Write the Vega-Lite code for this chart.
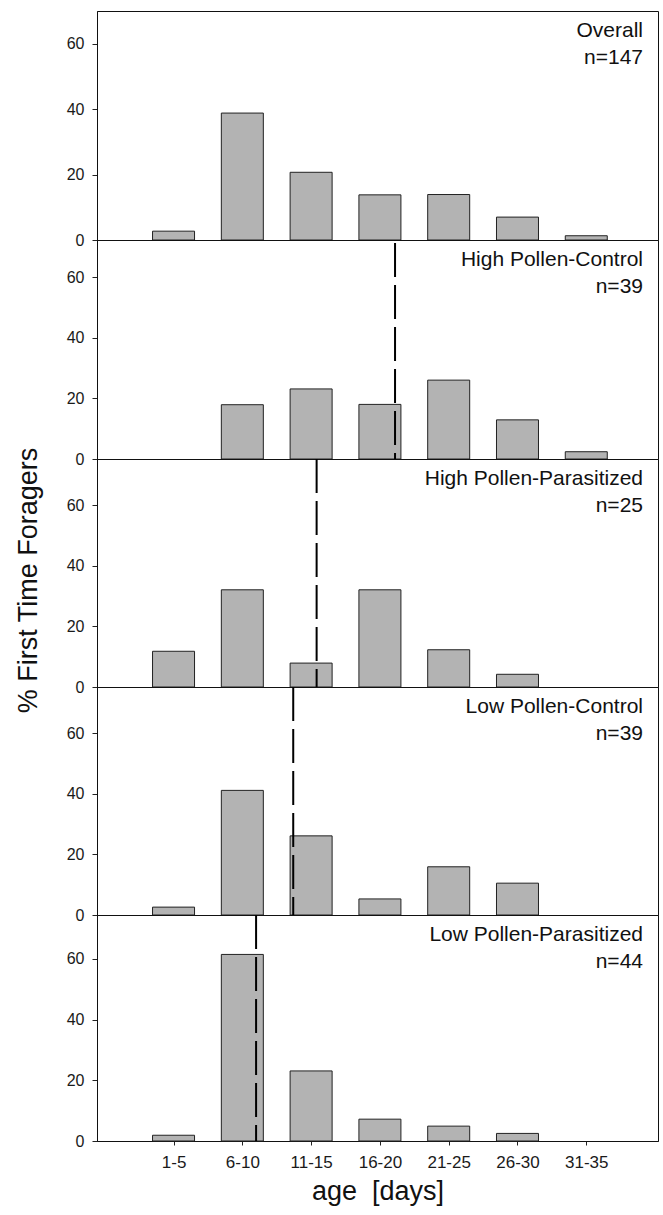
{
  "$schema": "https://vega.github.io/schema/vega-lite/v6.json",
  "padding": {"left": 13, "top": 10, "right": 5, "bottom": 3},
  "background": "white",
  "spacing": 0,
  "bounds": "flush",
  "resolve": {"scale": {"x": "independent", "y": "independent"}},
  "config": {
    "view": {"stroke": "#111", "strokeWidth": 1},
    "axis": {"labelFont": "Liberation Sans", "titleFont": "Liberation Sans", "labelFontSize": 16, "labelColor": "#1a1a1a", "titleColor": "#111", "titleFontWeight": "normal", "tickColor": "#222", "domainColor": "#111", "grid": false},
    "text": {"font": "Liberation Sans"}
  },
  "datasets": {
    "bars": [
      {"panel": "Overall", "age": "1-5", "mid": 3, "pct": 2.7},
      {"panel": "Overall", "age": "6-10", "mid": 8, "pct": 38.8},
      {"panel": "Overall", "age": "11-15", "mid": 13, "pct": 20.7},
      {"panel": "Overall", "age": "16-20", "mid": 18, "pct": 13.8},
      {"panel": "Overall", "age": "21-25", "mid": 23, "pct": 13.9},
      {"panel": "Overall", "age": "26-30", "mid": 28, "pct": 7.0},
      {"panel": "Overall", "age": "31-35", "mid": 33, "pct": 1.3},
      {"panel": "HPC", "age": "6-10", "mid": 8, "pct": 17.9},
      {"panel": "HPC", "age": "11-15", "mid": 13, "pct": 23.1},
      {"panel": "HPC", "age": "16-20", "mid": 18, "pct": 18.0},
      {"panel": "HPC", "age": "21-25", "mid": 23, "pct": 26.0},
      {"panel": "HPC", "age": "26-30", "mid": 28, "pct": 12.9},
      {"panel": "HPC", "age": "31-35", "mid": 33, "pct": 2.4},
      {"panel": "HPP", "age": "1-5", "mid": 3, "pct": 11.8},
      {"panel": "HPP", "age": "6-10", "mid": 8, "pct": 32.1},
      {"panel": "HPP", "age": "11-15", "mid": 13, "pct": 7.9},
      {"panel": "HPP", "age": "16-20", "mid": 18, "pct": 32.1},
      {"panel": "HPP", "age": "21-25", "mid": 23, "pct": 12.3},
      {"panel": "HPP", "age": "26-30", "mid": 28, "pct": 4.2},
      {"panel": "LPC", "age": "1-5", "mid": 3, "pct": 2.6},
      {"panel": "LPC", "age": "6-10", "mid": 8, "pct": 41.1},
      {"panel": "LPC", "age": "11-15", "mid": 13, "pct": 26.1},
      {"panel": "LPC", "age": "16-20", "mid": 18, "pct": 5.3},
      {"panel": "LPC", "age": "21-25", "mid": 23, "pct": 15.9},
      {"panel": "LPC", "age": "26-30", "mid": 28, "pct": 10.5},
      {"panel": "LPP", "age": "1-5", "mid": 3, "pct": 1.9},
      {"panel": "LPP", "age": "6-10", "mid": 8, "pct": 61.5},
      {"panel": "LPP", "age": "11-15", "mid": 13, "pct": 23.1},
      {"panel": "LPP", "age": "16-20", "mid": 18, "pct": 7.2},
      {"panel": "LPP", "age": "21-25", "mid": 23, "pct": 4.9},
      {"panel": "LPP", "age": "26-30", "mid": 28, "pct": 2.5}
    ],
    "panels": [
      {"panel": "Overall", "label": "Overall\nn=147"},
      {"panel": "HPC", "label": "High Pollen-Control\nn=39", "median": 19.1},
      {"panel": "HPP", "label": "High Pollen-Parasitized\nn=25", "median": 13.4},
      {"panel": "LPC", "label": "Low Pollen-Control\nn=39", "median": 11.7},
      {"panel": "LPP", "label": "Low Pollen-Parasitized\nn=44", "median": 9.0}
    ]
  },
  "vconcat": [
    {
      "width": 561, "height": 229,
      "layer": [
        {"data": {"name": "bars"}, "transform": [{"filter": "datum.panel === 'Overall'"}],
         "mark": {"type": "bar", "width": 42, "fill": "#b3b3b3", "stroke": "#222", "strokeWidth": 1},
         "encoding": {
           "x": {"field": "mid", "type": "quantitative", "scale": {"domain": [-2.2, 37.85], "nice": false, "zero": false}, "axis": null},
           "y": {"field": "pct", "type": "quantitative", "scale": {"domain": [0, 70], "nice": false}, "axis": {"values": [0, 20, 40, 60], "title": null, "tickSize": 5, "labelPadding": 8}}
         }},
        {"data": {"name": "panels"}, "transform": [{"filter": "datum.panel === 'Overall'"}],
         "mark": {"type": "text", "align": "right", "baseline": "alphabetic", "dx": -10, "dy": 26, "fontSize": 21, "lineBreak": "\n", "lineHeight": 27, "color": "#111"},
         "encoding": {"x": {"datum": 37.85, "type": "quantitative"}, "y": {"datum": 70, "type": "quantitative"}, "text": {"field": "label"}}}
      ]
    },
    {
      "width": 561, "height": 219,
      "layer": [
        {"data": {"name": "bars"}, "transform": [{"filter": "datum.panel === 'HPC'"}],
         "mark": {"type": "bar", "width": 42, "fill": "#b3b3b3", "stroke": "#222", "strokeWidth": 1},
         "encoding": {
           "x": {"field": "mid", "type": "quantitative", "scale": {"domain": [-2.2, 37.85], "nice": false, "zero": false}, "axis": null},
           "y": {"field": "pct", "type": "quantitative", "scale": {"domain": [0, 72.2], "nice": false}, "axis": {"values": [0, 20, 40, 60], "title": null, "tickSize": 5, "labelPadding": 8}}
         }},
        {"data": {"name": "panels"}, "transform": [{"filter": "datum.panel === 'HPC'"}],
         "mark": {"type": "rule", "color": "#000", "strokeWidth": 2, "strokeDash": [34, 8], "strokeDashOffset": -3},
         "encoding": {"x": {"field": "median", "type": "quantitative"}, "y": {"datum": 72.2, "type": "quantitative"}, "y2": {"datum": 0}}},
        {"data": {"name": "panels"}, "transform": [{"filter": "datum.panel === 'HPC'"}],
         "mark": {"type": "text", "align": "right", "baseline": "alphabetic", "dx": -10, "dy": 26, "fontSize": 21, "lineBreak": "\n", "lineHeight": 27, "color": "#111"},
         "encoding": {"x": {"datum": 37.85, "type": "quantitative"}, "y": {"datum": 72.2, "type": "quantitative"}, "text": {"field": "label"}}}
      ]
    },
    {
      "width": 561, "height": 228,
      "layer": [
        {"data": {"name": "bars"}, "transform": [{"filter": "datum.panel === 'HPP'"}],
         "mark": {"type": "bar", "width": 42, "fill": "#b3b3b3", "stroke": "#222", "strokeWidth": 1},
         "encoding": {
           "x": {"field": "mid", "type": "quantitative", "scale": {"domain": [-2.2, 37.85], "nice": false, "zero": false}, "axis": null},
           "y": {"field": "pct", "type": "quantitative", "scale": {"domain": [0, 75.3], "nice": false}, "axis": {"values": [0, 20, 40, 60], "title": "% First Time Foragers", "titleFontSize": 27, "titlePadding": 24, "titleY": 121, "tickSize": 5, "labelPadding": 8}}
         }},
        {"data": {"name": "panels"}, "transform": [{"filter": "datum.panel === 'HPP'"}],
         "mark": {"type": "rule", "color": "#000", "strokeWidth": 2, "strokeDash": [34, 8]},
         "encoding": {"x": {"field": "median", "type": "quantitative"}, "y": {"datum": 75.3, "type": "quantitative"}, "y2": {"datum": 0}}},
        {"data": {"name": "panels"}, "transform": [{"filter": "datum.panel === 'HPP'"}],
         "mark": {"type": "text", "align": "right", "baseline": "alphabetic", "dx": -10, "dy": 26, "fontSize": 21, "lineBreak": "\n", "lineHeight": 27, "color": "#111"},
         "encoding": {"x": {"datum": 37.85, "type": "quantitative"}, "y": {"datum": 75.3, "type": "quantitative"}, "text": {"field": "label"}}}
      ]
    },
    {
      "width": 561, "height": 228,
      "layer": [
        {"data": {"name": "bars"}, "transform": [{"filter": "datum.panel === 'LPC'"}],
         "mark": {"type": "bar", "width": 42, "fill": "#b3b3b3", "stroke": "#222", "strokeWidth": 1},
         "encoding": {
           "x": {"field": "mid", "type": "quantitative", "scale": {"domain": [-2.2, 37.85], "nice": false, "zero": false}, "axis": null},
           "y": {"field": "pct", "type": "quantitative", "scale": {"domain": [0, 75.2], "nice": false}, "axis": {"values": [0, 20, 40, 60], "title": null, "tickSize": 5, "labelPadding": 8}}
         }},
        {"data": {"name": "panels"}, "transform": [{"filter": "datum.panel === 'LPC'"}],
         "mark": {"type": "rule", "color": "#000", "strokeWidth": 2, "strokeDash": [34, 8]},
         "encoding": {"x": {"field": "median", "type": "quantitative"}, "y": {"datum": 75.2, "type": "quantitative"}, "y2": {"datum": 0}}},
        {"data": {"name": "panels"}, "transform": [{"filter": "datum.panel === 'LPC'"}],
         "mark": {"type": "text", "align": "right", "baseline": "alphabetic", "dx": -10, "dy": 26, "fontSize": 21, "lineBreak": "\n", "lineHeight": 27, "color": "#111"},
         "encoding": {"x": {"datum": 37.85, "type": "quantitative"}, "y": {"datum": 75.2, "type": "quantitative"}, "text": {"field": "label"}}}
      ]
    },
    {
      "width": 561, "height": 226,
      "layer": [
        {"data": {"name": "bars"}, "transform": [{"filter": "datum.panel === 'LPP'"}],
         "mark": {"type": "bar", "width": 42, "fill": "#b3b3b3", "stroke": "#222", "strokeWidth": 1},
         "encoding": {
           "x": {"field": "mid", "type": "quantitative", "scale": {"domain": [-2.2, 37.85], "nice": false, "zero": false},
                 "axis": {"values": [3, 8, 13, 18, 23, 28, 33], "labelExpr": "(datum.value - 2) + '-' + (datum.value + 2)", "labelFontSize": 17, "title": "age\u00a0\u00a0[days]", "titleFontSize": 27, "titlePadding": 8, "tickSize": 4, "labelPadding": 9}},
           "y": {"field": "pct", "type": "quantitative", "scale": {"domain": [0, 74.5], "nice": false}, "axis": {"values": [0, 20, 40, 60], "title": null, "tickSize": 5, "labelPadding": 8}}
         }},
        {"data": {"name": "panels"}, "transform": [{"filter": "datum.panel === 'LPP'"}],
         "mark": {"type": "rule", "color": "#000", "strokeWidth": 2, "strokeDash": [34, 8]},
         "encoding": {"x": {"field": "median", "type": "quantitative"}, "y": {"datum": 74.5, "type": "quantitative"}, "y2": {"datum": 0}}},
        {"data": {"name": "panels"}, "transform": [{"filter": "datum.panel === 'LPP'"}],
         "mark": {"type": "text", "align": "right", "baseline": "alphabetic", "dx": -10, "dy": 26, "fontSize": 21, "lineBreak": "\n", "lineHeight": 27, "color": "#111"},
         "encoding": {"x": {"datum": 37.85, "type": "quantitative"}, "y": {"datum": 74.5, "type": "quantitative"}, "text": {"field": "label"}}}
      ]
    }
  ]
}
